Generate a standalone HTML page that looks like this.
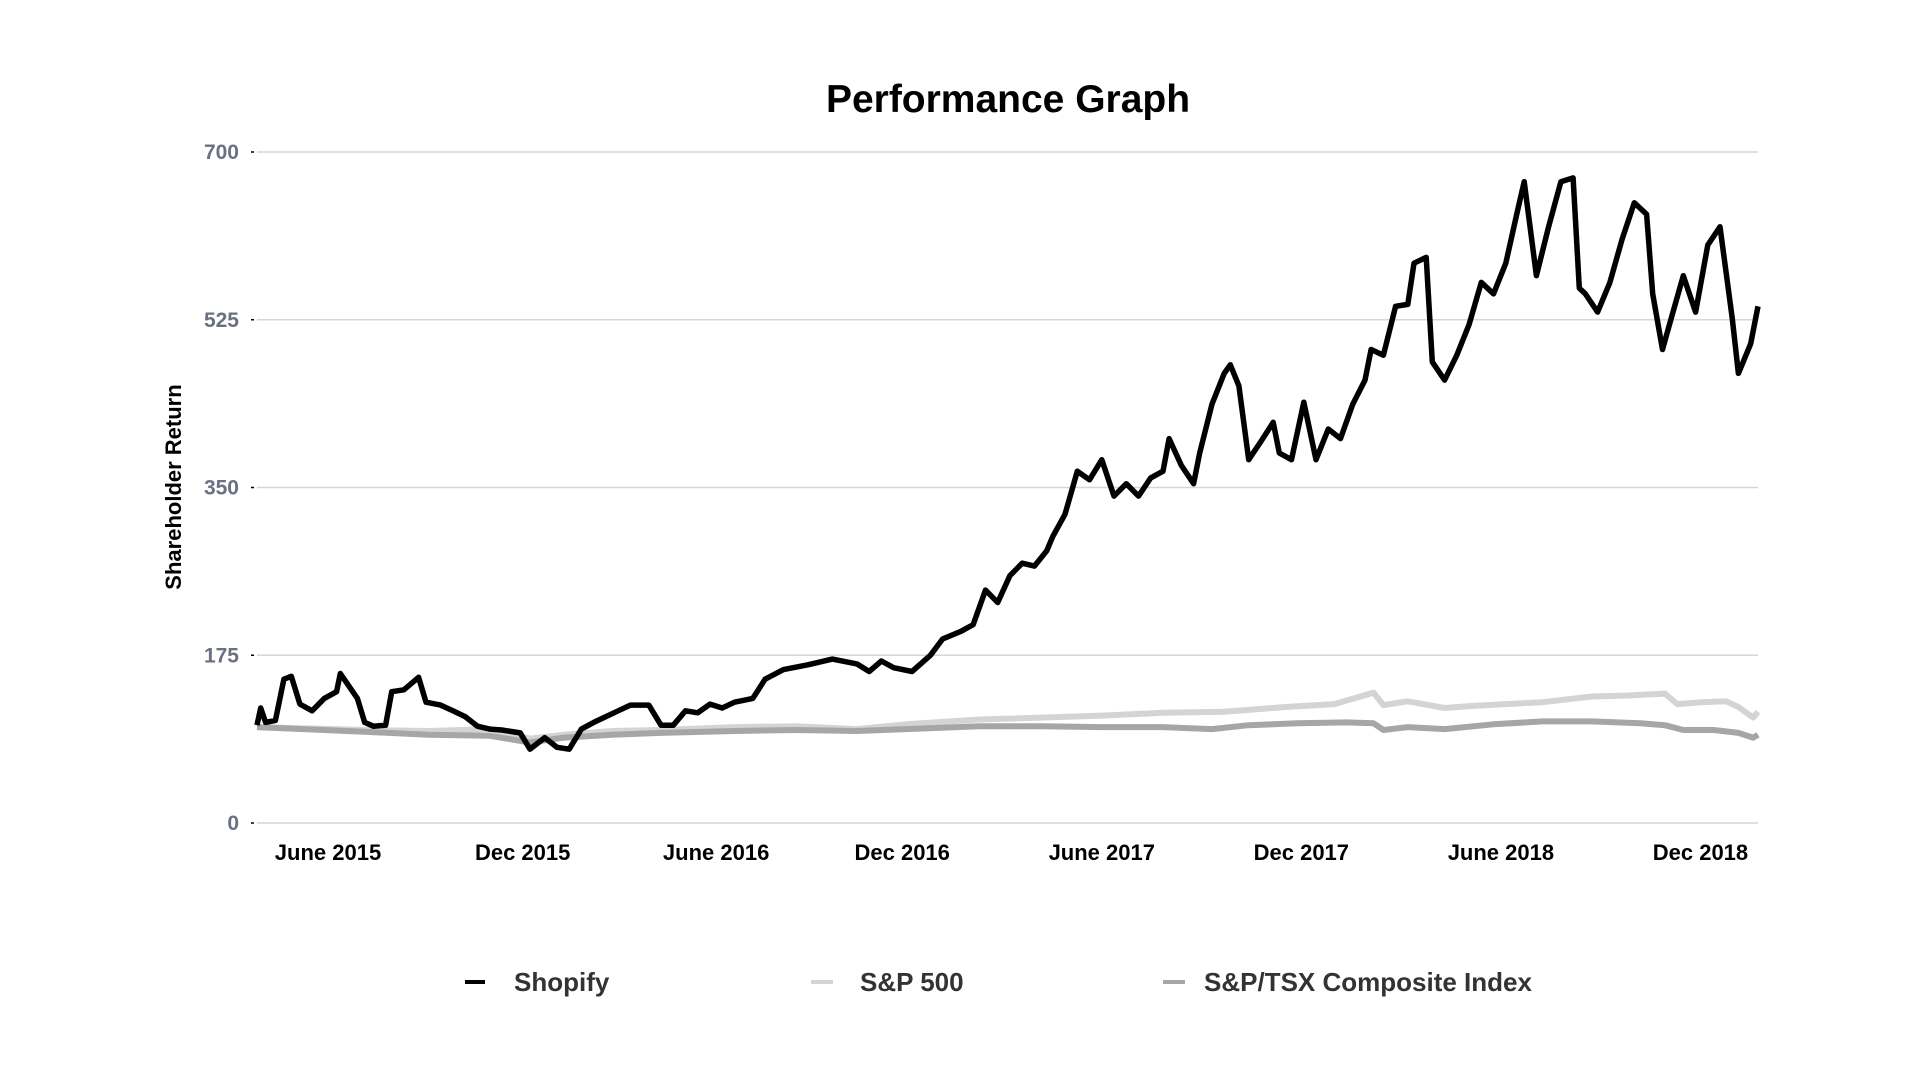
<!DOCTYPE html>
<html><head><meta charset="utf-8"><style>
html,body{margin:0;padding:0;background:#fff;}
body{width:1920px;height:1080px;overflow:hidden;font-family:"Liberation Sans",Arial,sans-serif;}
</style></head><body>
<svg id="chart" width="1920" height="1080" xmlns="http://www.w3.org/2000/svg" font-family="Liberation Sans, Arial, sans-serif">
<text x="1008" y="112" text-anchor="middle" font-size="39" font-weight="bold" fill="#000">Performance Graph</text>
<g id="grid"></g>
<g id="yticks"></g>
<g id="xticks"></g>
<text transform="translate(181,487) rotate(-90)" text-anchor="middle" font-size="22" font-weight="bold" fill="#000">Shareholder Return</text>
<g id="series"></g>
<g>
 <g>
  <line x1="465" y1="982" x2="485" y2="982" stroke="#000" stroke-width="4"/>
  <text x="514" y="991" font-size="26" font-weight="bold" fill="#333">Shopify</text>
 </g>
 <g>
  <line x1="811" y1="982" x2="833" y2="982" stroke="#d4d4d4" stroke-width="4"/>
  <text x="860" y="991" font-size="26" font-weight="bold" fill="#333">S&amp;P 500</text>
 </g>
 <g>
  <line x1="1163" y1="982" x2="1185" y2="982" stroke="#a6a6a6" stroke-width="4"/>
  <text x="1204" y="991" font-size="26" font-weight="bold" fill="#333">S&amp;P/TSX Composite Index</text>
 </g>
</g>
</svg>
<script>
const yTicks = [0, 175, 350, 525, 700];
const xTickLabels = ["June 2015","Dec 2015","June 2016","Dec 2016","June 2017","Dec 2017","June 2018","Dec 2018"];
const xTickTimes = [58,217,375,527,690,853,1016,1179];
const shopifyTime = [0,3,7,15,22,28,35,45,55,65,68,75,82,88,95,105,110,120,132,138,150,160,170,180,190,200,215,223,235,245,255,265,275,285,295,305,320,330,340,350,360,370,380,390,405,415,430,450,470,490,500,510,520,535,550,560,575,585,595,605,615,625,635,645,650,660,670,680,690,700,710,720,730,740,745,755,765,770,780,790,795,802,810,820,830,835,845,855,865,875,885,895,905,910,920,930,940,945,955,960,970,980,990,1000,1010,1020,1030,1035,1045,1055,1065,1075,1080,1085,1095,1105,1115,1125,1135,1140,1148,1155,1165,1175,1185,1195,1205,1210,1220,1226];
const shopifyValues = [102,120,105,107,150,153,124,117,130,137,156,143,130,105,101,102,137,139,152,126,123,117,111,101,98,97,94,77,89,79,77,98,105,111,117,123,123,102,102,117,115,124,120,126,130,150,160,165,171,166,158,169,162,158,175,192,200,207,243,230,258,271,268,284,299,322,367,358,379,341,354,341,360,367,401,373,354,386,437,469,478,456,379,398,418,386,379,439,379,411,401,437,462,494,488,539,541,584,590,481,462,488,520,564,552,584,641,669,571,622,669,673,558,552,533,564,609,647,635,552,494,526,571,533,603,622,526,469,500,539];
const spTime = [0,90,140,190,223,250,290,330,390,440,490,530,590,640,690,740,790,840,880,912,920,940,970,990,1020,1050,1090,1120,1150,1160,1180,1200,1210,1222,1226];
const spValues = [100,97,96,98,88,92,96,97,100,101,98,103,108,110,112,115,116,121,124,136,123,127,120,122,124,126,132,133,135,124,126,127,121,110,116];
const tsxTime = [0,90,140,190,223,250,290,330,390,440,490,530,590,640,690,740,780,810,850,890,912,920,940,970,1010,1050,1090,1130,1150,1165,1190,1210,1222,1226];
const tsxValues = [100,95,92,91,84,89,92,94,96,97,96,98,101,101,100,100,98,102,104,105,104,97,100,98,103,106,106,104,102,97,97,94,89,92];

const NS = "http://www.w3.org/2000/svg";
const X0 = 257, X1 = 1758, Y0 = 823, Y1 = 152;
const T_MAX = 1226, V_MAX = 700;
function xScale(t){ return X0 + (t / T_MAX) * (X1 - X0); }
function yScale(v){ return Y0 - (v / V_MAX) * (Y0 - Y1); }

const grid = document.getElementById('grid');
const yt = document.getElementById('yticks');
yTicks.forEach(v => {
  const y = yScale(v);
  const l = document.createElementNS(NS, 'line');
  
  
  l.setAttribute('x1', X0); l.setAttribute('x2', X1);
  l.setAttribute('y1', y); l.setAttribute('y2', y);
  l.setAttribute('stroke', '#d6d6d6'); l.setAttribute('stroke-width', '1.5');
  grid.appendChild(l);
  const tk = document.createElementNS(NS, 'line');
  
  
  tk.setAttribute('x1', X0 - 6); tk.setAttribute('x2', X0 - 3);
  tk.setAttribute('y1', y); tk.setAttribute('y2', y);
  tk.setAttribute('stroke', '#000'); tk.setAttribute('stroke-width', '1.5');
  yt.appendChild(tk);
  const t = document.createElementNS(NS, 'text');
  
  
  t.setAttribute('x', 239); t.setAttribute('y', y + 7);
  t.setAttribute('text-anchor', 'end'); t.setAttribute('font-size', '21');
  t.setAttribute('font-weight', 'bold'); t.setAttribute('fill', '#6b7082');
  t.textContent = v;
  yt.appendChild(t);
});
const xt = document.getElementById('xticks');
xTickLabels.forEach((lab, i) => {
  const t = document.createElementNS(NS, 'text');
  
  
  t.setAttribute('x', xScale(xTickTimes[i])); t.setAttribute('y', 860);
  t.setAttribute('text-anchor', 'middle'); t.setAttribute('font-size', '22');
  t.setAttribute('font-weight', 'bold'); t.setAttribute('fill', '#000');
  t.textContent = lab;
  xt.appendChild(t);
});
const ser = document.getElementById('series');
function drawLine(times, vals, color, width, name){
  const d = times.map((t, i) => (i ? 'L' : 'M') + xScale(t).toFixed(1) + ',' + yScale(vals[i]).toFixed(1)).join(' ');
  const p = document.createElementNS(NS, 'path');
  
  
  p.setAttribute('d', d);
  p.setAttribute('fill', 'none'); p.setAttribute('stroke', color);
  p.setAttribute('stroke-width', width); p.setAttribute('stroke-linejoin', 'round');
  ser.appendChild(p);
}
drawLine(spTime, spValues, '#d4d4d4', 6, 'sp500-line');
drawLine(tsxTime, tsxValues, '#a6a6a6', 6, 'tsx-line');
drawLine(shopifyTime, shopifyValues, '#000', 5.5, 'shopify-line');
</script>
</body></html>
